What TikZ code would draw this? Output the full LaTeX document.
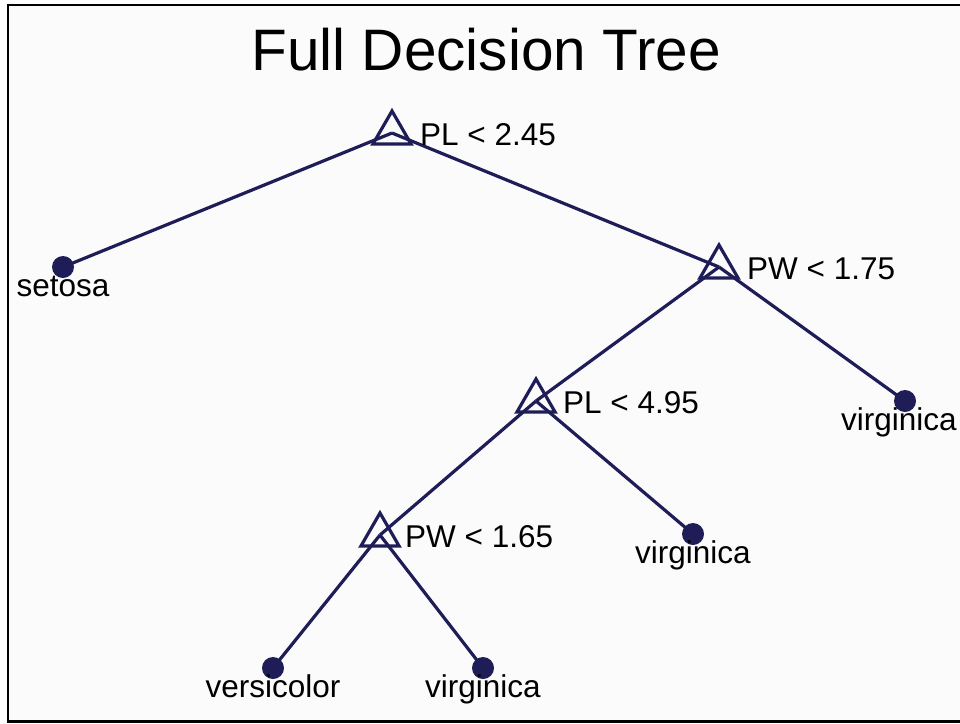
\documentclass[tikz,border=0pt]{standalone}
\usepackage{fontspec}
\setmainfont{Liberation Sans}
\usetikzlibrary{shapes.geometric}
\definecolor{treeink}{RGB}{30,29,88}
\definecolor{panel}{RGB}{251,251,251}
\begin{document}
\begin{tikzpicture}[x=1pt,y=-1pt,
  splitnode/.style={regular polygon, regular polygon sides=3, draw=treeink,
    line width=3.2pt, minimum size=44pt, inner sep=0pt, outer sep=0pt},
  leafnode/.style={circle, fill=treeink, minimum size=22pt, inner sep=0pt, outer sep=0pt},
  edge/.style={draw=treeink, line width=3.2pt},
  splittext/.style={anchor=base west, inner sep=0pt, font=\fontsize{31.5}{31.5}\selectfont},
  leaftext/.style={anchor=base, inner sep=0pt, font=\fontsize{31.5}{31.5}\selectfont}]
  \useasboundingbox (0,0) rectangle (960,723);
  % plot frame
  \fill[white] (0,0) rectangle (960,723);
  \filldraw[fill=panel, draw=black, line width=2.5pt] (8,5) rectangle (975,721.5);
  \node[anchor=base, inner sep=0pt, font=\fontsize{58.5}{58.5}\selectfont] (title) at (486,70) {Full Decision Tree};

  % node positions
  \coordinate (r)  at (392,133);
  \coordinate (a)  at (719,267);
  \coordinate (b)  at (536,401);
  \coordinate (c)  at (380,535);
  \coordinate (l1) at (63,267);
  \coordinate (l2) at (905,401);
  \coordinate (l3) at (693,534);
  \coordinate (l4) at (273,668);
  \coordinate (l5) at (483,668);

  % branches
  \draw[edge] (r) -- (l1);
  \draw[edge] (r) -- (a);
  \draw[edge] (a) -- (b);
  \draw[edge] (a) -- (l2);
  \draw[edge] (b) -- (c);
  \draw[edge] (b) -- (l3);
  \draw[edge] (c) -- (l4);
  \draw[edge] (c) -- (l5);

  % split nodes
  \node[splitnode] (root) at (r) {};
  \node[splitnode] (pw175) at (a) {};
  \node[splitnode] (pl495) at (b) {};
  \node[splitnode] (pw165) at (c) {};
  \node[splittext] (root-t) at ([xshift=28pt,yshift=-12pt]root.center) {PL < 2.45};
  \node[splittext] (pw175-t) at ([xshift=28pt,yshift=-12pt]pw175.center) {PW < 1.75};
  \node[splittext] (pl495-t) at ([xshift=27pt,yshift=-12pt]pl495.center) {PL < 4.95};
  \node[splittext] (pw165-t) at ([xshift=25pt,yshift=-12pt]pw165.center) {PW < 1.65};

  % leaves
  \node[leafnode] (setosa) at (l1) {};
  \node[leafnode] (virg1) at (l2) {};
  \node[leafnode] (virg2) at (l3) {};
  \node[leafnode] (versi) at (l4) {};
  \node[leafnode] (virg3) at (l5) {};
  \node[leaftext] (setosa-t) at ([yshift=-29pt]setosa.center) {setosa};
  \node[leaftext] (virg1-t) at ([xshift=-6pt,yshift=-29pt]virg1.center) {virginica};
  \node[leaftext] (virg2-t) at ([yshift=-29pt]virg2.center) {virginica};
  \node[leaftext] (versi-t) at ([yshift=-29pt]versi.center) {versicolor};
  \node[leaftext] (virg3-t) at ([yshift=-29pt]virg3.center) {virginica};
\end{tikzpicture}
\end{document}
